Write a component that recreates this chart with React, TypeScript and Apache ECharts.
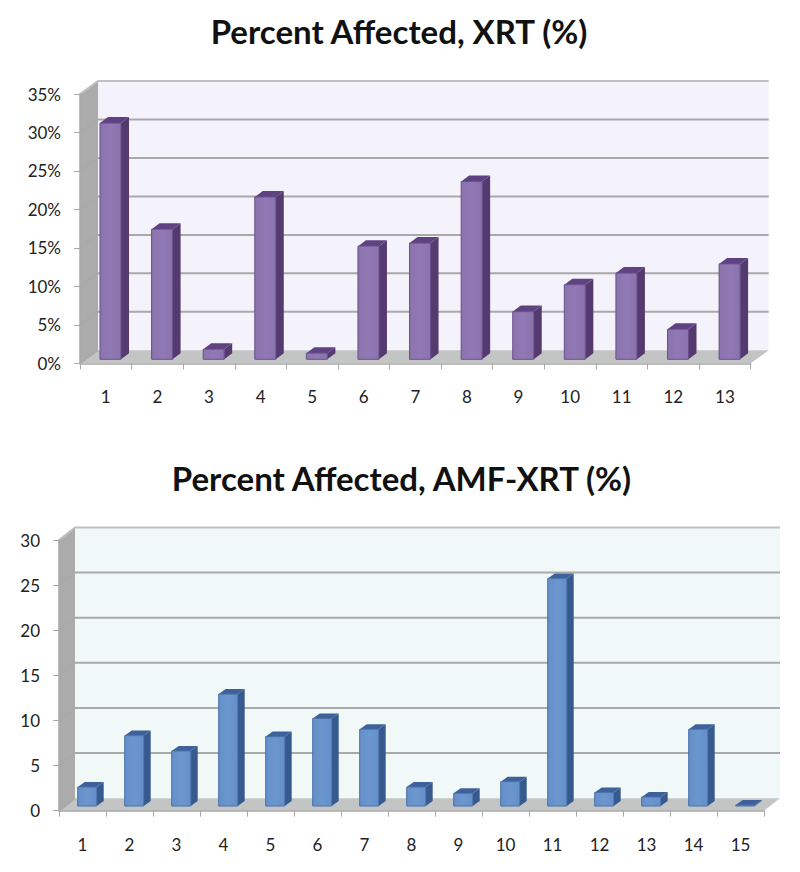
import React, { useEffect, useRef } from "react";
import * as echarts from "echarts";

const TITLE_XRT = "Percent Affected, XRT (%)";
const TITLE_AMF = "Percent Affected, AMF-XRT (%)";
const CATEGORIES_XRT = ["1","2","3","4","5","6","7","8","9","10","11","12","13"];
const VALUES_XRT = [30.7, 16.9, 1.3, 21.1, 0.8, 14.7, 15.1, 23.1, 6.2, 9.7, 11.2, 3.9, 12.4];
const CATEGORIES_AMF = ["1","2","3","4","5","6","7","8","9","10","11","12","13","14","15"];
const VALUES_AMF = [2.1, 7.8, 6.1, 12.4, 7.7, 9.7, 8.5, 2.1, 1.4, 2.7, 25.2, 1.5, 1.0, 8.5, 0.1];
const TICKS_XRT = [0, 5, 10, 15, 20, 25, 30, 35];
const TICKS_AMF = [0, 5, 10, 15, 20, 25, 30];

const FONT = "Lato, 'Open Sans', sans-serif";
const WALL = "#ababab";
const FLOOR = "#c2c5c3";
const GRIDLINE = "#a9a9a9";
const TOPLINE = "#c0c0c0";

type Look = { dx: number; dy: number; back: string; barW: number; sideW: number; sideH: number; shiftX: number; shiftY: number; front: string[]; side: string; top: string; edge: string };

const LOOK_XRT: Look = { dx: 18, dy: 13, back: "#f4f2fa", barW: 21, sideW: 8, sideH: 6, shiftX: 4.7, shiftY: 4, front: ["#8b73ad", "#9079b4", "#8b73ad"], side: "#553a70", top: "#5f4282", edge: "#6a4f8c" };
const LOOK_AMF: Look = { dx: 16, dy: 12.5, back: "#f0f8f8", barW: 19, sideW: 7, sideH: 5, shiftX: 4.7, shiftY: 4.7, front: ["#658fc8", "#6c96ce", "#658fc8"], side: "#375a8e", top: "#3e619b", edge: "#4870aa" };

function roomRenderer(look: Look) {
  return (params: any, api: any) => {
    const cs = params.coordSys;
    const { dx, dy } = look;
    const x0 = cs.x, x1 = cs.x + cs.width, yT = cs.y, yB = cs.y + cs.height;
    return {
      type: "group",
      children: [
        { type: "rect", shape: { x: x0 + dx, y: yT - dy, width: cs.width, height: cs.height }, style: { fill: look.back } },
        { type: "polygon", shape: { points: [[x0, yT], [x0 + dx, yT - dy], [x0 + dx, yB - dy], [x0, yB]] }, style: { fill: WALL } },
        { type: "polygon", shape: { points: [[x0, yB], [x0 + dx, yB - dy], [x1 + dx, yB - dy], [x1, yB]] }, style: { fill: FLOOR } },
      ],
    };
  };
}

function gridRenderer(look: Look) {
  return (params: any, api: any) => {
    const cs = params.coordSys;
    const p = api.coord([0, api.value(0)]);
    const y = p[1];
    const x0 = cs.x, x1 = cs.x + cs.width;
    const atBase = y >= cs.y + cs.height - 0.5;
    const atTop = y <= cs.y + 0.5;
    return {
      type: "polyline",
      shape: { points: atBase ? [[x0, y], [x0 + look.dx, y - look.dy]] : [[x0, y], [x0 + look.dx, y - look.dy], [x1 + look.dx, y - look.dy]] },
      style: { stroke: atTop ? TOPLINE : GRIDLINE, lineWidth: 2, fill: "none" },
    };
  };
}

function barRenderer(look: Look) {
  return (params: any, api: any) => {
    const top = api.coord([api.value(0), api.value(1)]);
    const base = api.coord([api.value(0), 0]);
    const x = top[0] + look.shiftX - look.barW / 2;
    const yT = top[1] - look.shiftY;
    const yB = base[1] - look.shiftY;
    const w = look.barW, sw = look.sideW, sh = look.sideH;
    return {
      type: "group",
      children: [
        { type: "polygon", shape: { points: [[x + w, yT], [x + w + sw, yT - sh], [x + w + sw, yB - sh], [x + w, yB]] }, style: { fill: look.side } },
        { type: "polygon", shape: { points: [[x, yT], [x + sw, yT - sh], [x + w + sw, yT - sh], [x + w, yT]] }, style: { fill: look.top } },
        {
          type: "rect",
          shape: { x, y: yT, width: w, height: yB - yT },
          style: {
            fill: new echarts.graphic.LinearGradient(0, 0, 1, 0, [
              { offset: 0, color: look.front[0] },
              { offset: 0.5, color: look.front[1] },
              { offset: 1, color: look.front[2] },
            ]),
            stroke: look.edge,
            lineWidth: 1,
          },
        },
      ],
    };
  };
}

function seriesFor(idx: number, values: number[], ticks: number[], look: Look) {
  const base = { type: "custom", xAxisIndex: idx, yAxisIndex: idx, clip: false, silent: true };
  return [
    { ...base, name: "room" + idx, z: 1, data: [[0]], encode: { x: -1, y: -1 }, renderItem: roomRenderer(look) },
    { ...base, name: "grid" + idx, z: 2, data: ticks.map((t) => [t]), encode: { y: 0, x: -1 }, renderItem: gridRenderer(look) },
    { ...base, name: "bars" + idx, z: 3, data: values.map((v, i) => [i, v]), encode: { x: 0, y: 1 }, renderItem: barRenderer(look) },
  ];
}

function xAxisFor(idx: number, data: string[]) {
  return {
    type: "category", gridIndex: idx, data, z: 10,
    axisLine: { lineStyle: { color: "#a8a8a8", width: 1.5 } },
    axisTick: { show: true, alignWithLabel: false, length: 6, lineStyle: { color: "#a8a8a8", width: 1 } },
    axisLabel: { color: "#222", fontFamily: FONT, fontSize: 17, margin: 25, interval: 0 },
  };
}

function yAxisFor(idx: number, max: number, fmt: string) {
  return {
    type: "value", gridIndex: idx, min: 0, max, interval: 5, z: 10,
    splitLine: { show: false },
    axisLine: { show: true, lineStyle: { color: "#a8a8a8", width: 1.5 } },
    axisTick: { show: true, length: 6, lineStyle: { color: "#a8a8a8", width: 1 } },
    axisLabel: { color: "#222", fontFamily: FONT, fontSize: 17, margin: 19, formatter: fmt },
  };
}

export default function App() {
  const ref = useRef<HTMLDivElement>(null);
  useEffect(() => {
    document.body.style.margin = "0";
    const chart = echarts.init(ref.current!, undefined, { renderer: "svg" });
    chart.setOption({
      animation: false,
      backgroundColor: "#ffffff",
      title: [
        { text: TITLE_XRT, left: 394, top: 9, textAlign: "center", textStyle: { fontFamily: FONT, fontSize: 33, fontWeight: 700, color: "#111" } },
        { text: TITLE_AMF, left: 396.5, top: 456, textAlign: "center", textStyle: { fontFamily: FONT, fontSize: 33, fontWeight: 700, color: "#111" } },
      ],
      grid: [
        { left: 80, top: 94, width: 670.7, height: 269.3, containLabel: false },
        { left: 59, top: 540, width: 705, height: 270.7, containLabel: false },
      ],
      xAxis: [xAxisFor(0, CATEGORIES_XRT), xAxisFor(1, CATEGORIES_AMF)],
      yAxis: [yAxisFor(0, 35, "{value}%"), yAxisFor(1, 30, "{value}")],
      series: [
        ...seriesFor(0, VALUES_XRT, TICKS_XRT, LOOK_XRT),
        ...seriesFor(1, VALUES_AMF, TICKS_AMF, LOOK_AMF),
      ],
    });
    return () => chart.dispose();
  }, []);
  return <div ref={ref} style={{ width: 800, height: 872 }} />;
}
